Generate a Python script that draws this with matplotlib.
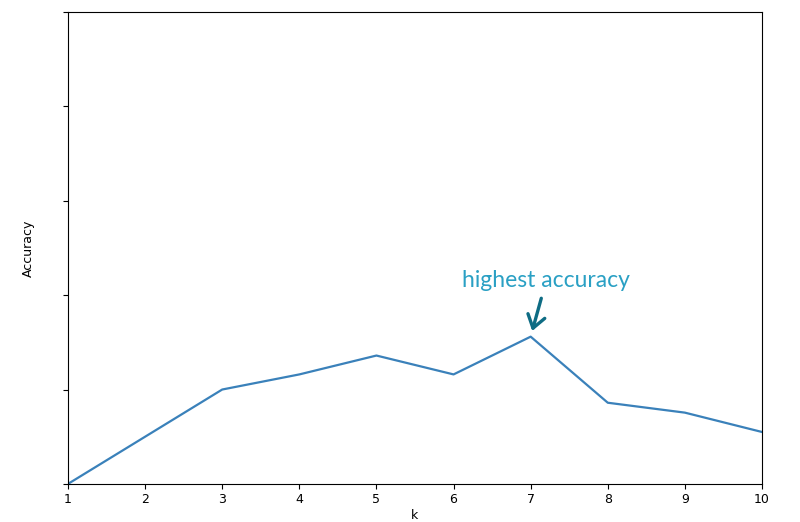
import matplotlib
matplotlib.use("Agg")
from matplotlib import pyplot as plt

# k values and accuracy (y axis unlabeled, arbitrary units)
k_values = [1, 2, 3, 4, 5, 6, 7, 8, 9, 10]
accuracy = [0.0, 0.5, 1.0, 1.16, 1.36, 1.16, 1.56, 0.86, 0.755, 0.55]
y_ticks = [0, 1, 2, 3, 4, 5]

fig = plt.figure(figsize=(8, 5.22), dpi=100)
ax = fig.add_axes([0.085, 0.073, 0.8675, 0.904])

ax.plot(k_values, accuracy, color='#3a81ba', linewidth=1.6)

ax.set_xlim(1, 10)
ax.set_ylim(0, 5)
ax.set_xticks(k_values)
ax.set_yticks(y_ticks)
ax.set_yticklabels([])
ax.tick_params(axis='x', labelsize=9, pad=3)
ax.set_xlabel('k', fontsize=9, labelpad=2)
ax.set_ylabel('Accuracy', fontsize=9, labelpad=17)

# annotate the peak
ax.annotate('highest accuracy', xy=(7.02, 1.62), xytext=(7.2, 2.15),
            ha='center', va='center', fontsize=16.5, color='#2aa0c4',
            family=['Lato', 'DejaVu Sans'],
            arrowprops=dict(arrowstyle='->,head_length=0.55,head_width=0.38',
                            color='#0e6c84', lw=2.4, shrinkA=3, shrinkB=0))

fig.savefig('out.png', dpi=100)
